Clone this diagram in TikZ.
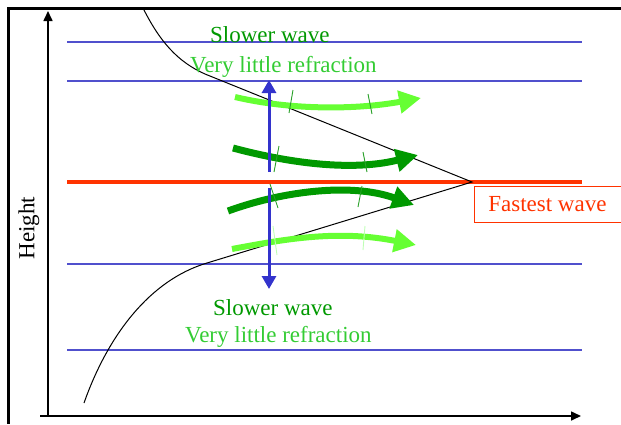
\documentclass[tikz,border=0pt]{standalone}
\usepackage{fontspec}
\setmainfont{Liberation Serif}
\usetikzlibrary{arrows.meta}
\definecolor{gridblue}{RGB}{80,80,205}
\definecolor{arrblue}{RGB}{51,51,204}
\definecolor{fastred}{RGB}{255,51,0}
\definecolor{darkgr}{RGB}{0,153,0}
\definecolor{lightgr}{RGB}{102,255,51}
\definecolor{labelgr}{RGB}{51,204,51}
\definecolor{tickgr}{RGB}{40,160,40}
\definecolor{faintgr}{RGB}{190,255,180}
\tikzset{
  frameline/.style={line width=3pt,black},
  axisline/.style={line width=1.6pt,black,-{Triangle[length=10pt,width=9pt]}},
  levelline/.style={line width=1.6pt,gridblue},
  ray/.style={line width=1pt,black},
  wavedark/.style={line width=7pt,darkgr,-{Triangle[length=22pt,width=22pt]}},
  wavelight/.style={line width=6pt,lightgr,-{Triangle[length=22pt,width=22pt]}},
  bluearrow/.style={line width=3pt,arrblue,-{Triangle[length=13pt,width=14pt]}},
  tickmark/.style={line width=0.9pt,tickgr},
  faintmark/.style={line width=0.9pt,faintgr},
  lbl/.style={font=\fontsize{23}{27}\selectfont,inner sep=0pt},
}
\begin{document}
\begin{tikzpicture}[x=1pt,y=-1pt]
\useasboundingbox (0,0) rectangle (621,424);
% frame
\coordinate (fTR) at (621,8.5);
\coordinate (fTL) at (8.5,8.5);
\coordinate (fBL) at (8.5,424);
\draw[frameline] (fTR) -- (fTL) -- (fBL);
% axes
\coordinate (origin) at (48,416);
\coordinate (ytop) at (48,11);
\coordinate (xend) at (581,416);
\draw[axisline] (origin) -- (ytop);
\draw[axisline] ([xshift=-8pt]origin) -- (xend);
\node[lbl,rotate=90] (height) at (29,228) {Height};
% level lines
\foreach \y/\n in {42/a,81/b,264/c,350/d}{
  \coordinate (L\n) at (67,\y);
  \coordinate (R\n) at (582,\y);
  \draw[levelline] (L\n) -- (R\n);
}
% fastest line
\coordinate (redL) at (67,182);
\coordinate (redR) at (582,182);
\draw[line width=4.5pt,fastred] (redL) -- (redR);
\node[draw=fastred,line width=0.8pt,text=fastred,lbl,minimum width=150pt,minimum height=36pt,anchor=north west] (fast) at (474,186) {\hspace*{-4pt}Fastest wave};
% ray curves
\coordinate (apex) at (472,182);
\coordinate (u0) at (143,8);
\coordinate (u1) at (205,74);
\coordinate (l1) at (207,263);
\coordinate (l0) at (84,403);
\draw[ray] (u0) .. controls (160,42) and (178,62) .. (u1) -- (apex) -- (l1) .. controls (150,280) and (108,335) .. (l0);
% wave arrows
\coordinate (w1s) at (235,97);
\coordinate (w1e) at (421,98);
\draw[wavelight] (w1s) .. controls (290,110) and (355,110) .. (w1e);
\coordinate (w2s) at (233,148);
\coordinate (w2e) at (418,155);
\draw[wavedark] (w2s) .. controls (285,162) and (350,172) .. (w2e);
\coordinate (w3s) at (228,211);
\coordinate (w3e) at (414,205);
\draw[wavedark] (w3s) .. controls (280,192) and (350,182) .. (w3e);
\coordinate (w4s) at (232,249);
\coordinate (w4e) at (416,245);
\draw[wavelight] (w4s) .. controls (290,238) and (340,230) .. (w4e);
% blue arrows from the fastest level
\coordinate (bu0) at (269,172);
\coordinate (bt) at (269,80);
\coordinate (bd0) at (269,188);
\coordinate (bb) at (269,289);
\draw[bluearrow] (bu0) -- (bt);
\draw[bluearrow] (bd0) -- (bb);
% ticks
\draw[tickmark] (293,90) -- (289,113);
\draw[tickmark] (368,94) -- (372,114);
\draw[tickmark] (279,146) -- (274,172);
\draw[tickmark] (363,152) -- (367,172);
\draw[tickmark] (270,184) -- (278,208);
\draw[tickmark] (362,186) -- (358,207);
\draw[faintmark] (273,226) -- (277,255);
\draw[faintmark] (365,226) -- (363,250);
% labels
\node[lbl,text=darkgr,anchor=base west] (sw1) at (210,42) {Slower wave};
\node[lbl,text=labelgr,anchor=base west] (vr1) at (190,72) {Very little refraction};
\node[lbl,text=darkgr,anchor=base west] (sw2) at (213,315) {Slower wave};
\node[lbl,text=labelgr,anchor=base west] (vr2) at (185,342) {Very little refraction};
\end{tikzpicture}
\end{document}
